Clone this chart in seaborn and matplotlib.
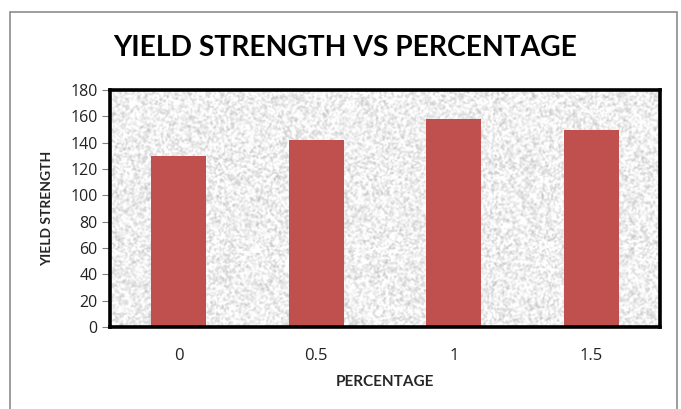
import numpy as np
import pandas as pd
import matplotlib
matplotlib.use("Agg")
import matplotlib.pyplot as plt
from matplotlib.patches import Rectangle
import seaborn as sns

# Data
percentages = ["0", "0.5", "1", "1.5"]
yield_strength = [130, 142, 158, 150]
y_ticks = [0, 20, 40, 60, 80, 100, 120, 140, 160, 180]

df = pd.DataFrame({"PERCENTAGE": percentages, "YIELD STRENGTH": yield_strength})

sns.set_theme(style="white")
plt.rcParams["font.family"] = ["Lato", "DejaVu Sans"]

fig = plt.figure(figsize=(6.81, 4.09), dpi=100)
fig.patch.set_facecolor("white")

# outer chart border
fig.patches.append(Rectangle((10 / 681, -0.05), 667 / 681, 1.05 - 12 / 409,
                             transform=fig.transFigure, fill=False,
                             edgecolor="#8c8c8c", linewidth=1.2))

ax = fig.add_axes([110 / 681, 82 / 409, 550 / 681, 237 / 409])

# granite-like fill for the plotting area
rng = np.random.default_rng(7)
noise = rng.random((240, 560))
k = np.array([1, 2, 1], dtype=float)
k /= k.sum()
for axis in (0, 1):
    noise = np.apply_along_axis(lambda r: np.convolve(r, k, mode="same"), axis, noise)
noise = (noise - noise.min()) / (noise.max() - noise.min())
tex = np.clip(0.72 + 0.42 * noise, 0, 1)
ax.imshow(tex, cmap="gray", vmin=0, vmax=1, extent=[0, 1, 0, 1],
          transform=ax.transAxes, aspect="auto", zorder=0, interpolation="bilinear")

sns.barplot(data=df, x="PERCENTAGE", y="YIELD STRENGTH", order=percentages,
            color="#C0504D", saturation=1, width=0.4, linewidth=0, ax=ax, zorder=2)

ax.set_xlim(-0.5, 3.5)
ax.set_ylim(0, 180)
ax.set_yticks(y_ticks)
ax.set_yticklabels([str(v) for v in y_ticks], fontsize=11.5, family=["Open Sans", "DejaVu Sans"])
ax.set_xticks(range(len(percentages)))
ax.set_xticklabels(percentages, fontsize=12, family=["Open Sans", "DejaVu Sans"])
ax.tick_params(axis="y", which="major", left=True, length=6, width=0.8,
               color="#808080", pad=3, labelcolor="#222222")
ax.tick_params(axis="x", which="major", bottom=False, pad=9, labelcolor="#222222")

for sp in ax.spines.values():
    sp.set_visible(True)
    sp.set_color("black")
    sp.set_linewidth(2.6)
    sp.set_zorder(5)

ax.set_xlabel("PERCENTAGE", fontsize=11, fontweight="bold", labelpad=8)
ax.set_ylabel("YIELD STRENGTH", fontsize=10, fontweight="bold", labelpad=12)

fig.text(0.507, 1 - 56 / 409, "YIELD STRENGTH VS PERCENTAGE", ha="center", va="baseline",
         fontsize=20.3, fontweight="bold", color="black")

fig.savefig("out.png", dpi=100, facecolor="white")
